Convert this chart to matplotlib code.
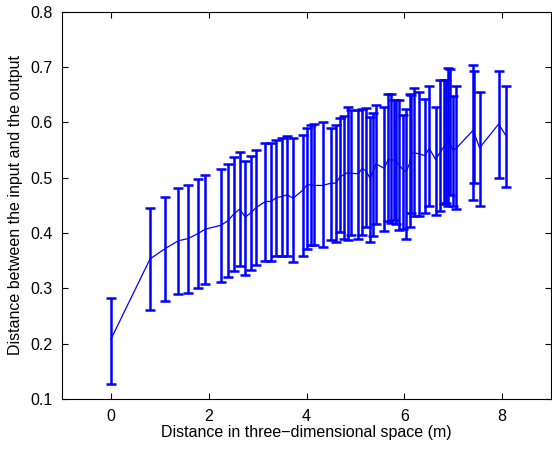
import matplotlib.pyplot as plt
import numpy as np

# distance in 3D space (m)
dist = [0.00, 0.80, 1.11, 1.38, 1.58, 1.78, 1.93, 2.25, 2.39, 2.51,
        2.63, 2.75, 2.87, 2.97, 3.16, 3.28, 3.38, 3.50, 3.60, 3.73,
        3.93, 4.01, 4.09, 4.16, 4.33, 4.50, 4.60, 4.69, 4.76, 4.84,
        4.92, 5.06, 5.14, 5.21, 5.30, 5.35, 5.42, 5.59, 5.67, 5.72,
        5.78, 5.84, 5.89, 5.98, 6.04, 6.11, 6.14, 6.20, 6.30, 6.42,
        6.51, 6.64, 6.74, 6.81, 6.85, 6.89, 6.94, 6.99, 7.06, 7.40,
        7.43, 7.54, 7.93, 8.07]
# mean distance between input and output
mean_val = [0.208, 0.353, 0.372, 0.386, 0.390, 0.399, 0.407, 0.414, 0.422, 0.434,
            0.443, 0.429, 0.437, 0.446, 0.457, 0.457, 0.464, 0.466, 0.469, 0.463,
            0.478, 0.487, 0.487, 0.486, 0.486, 0.490, 0.490, 0.502, 0.505, 0.509,
            0.508, 0.507, 0.517, 0.513, 0.499, 0.508, 0.525, 0.517, 0.533, 0.532,
            0.532, 0.529, 0.523, 0.514, 0.511, 0.526, 0.543, 0.545, 0.543, 0.540,
            0.553, 0.533, 0.547, 0.556, 0.560, 0.580, 0.562, 0.550, 0.553, 0.585,
            0.580, 0.554, 0.597, 0.577]
# lower / upper ends of the error bars
lower = [0.128, 0.261, 0.278, 0.289, 0.292, 0.301, 0.308, 0.311, 0.321, 0.332,
         0.341, 0.325, 0.334, 0.342, 0.350, 0.350, 0.358, 0.358, 0.358, 0.348,
         0.359, 0.372, 0.378, 0.378, 0.374, 0.387, 0.383, 0.402, 0.390, 0.387,
         0.396, 0.389, 0.396, 0.411, 0.384, 0.395, 0.416, 0.404, 0.422, 0.419,
         0.423, 0.417, 0.405, 0.408, 0.389, 0.411, 0.436, 0.430, 0.431, 0.437,
         0.448, 0.433, 0.440, 0.452, 0.454, 0.448, 0.469, 0.448, 0.443, 0.460,
         0.491, 0.448, 0.500, 0.484]
upper = [0.283, 0.446, 0.465, 0.481, 0.487, 0.498, 0.505, 0.516, 0.525, 0.538,
         0.546, 0.530, 0.540, 0.550, 0.563, 0.563, 0.568, 0.572, 0.575, 0.572,
         0.578, 0.589, 0.595, 0.597, 0.600, 0.590, 0.596, 0.608, 0.611, 0.628,
         0.622, 0.622, 0.625, 0.626, 0.609, 0.617, 0.631, 0.627, 0.652, 0.651,
         0.640, 0.641, 0.640, 0.614, 0.625, 0.651, 0.649, 0.663, 0.654, 0.643,
         0.666, 0.628, 0.677, 0.677, 0.677, 0.699, 0.696, 0.648, 0.666, 0.704,
         0.692, 0.655, 0.693, 0.665]

plt.rcParams.update({'font.family': ['Liberation Sans', 'DejaVu Sans'],
                     'font.size': 11.5, 'xtick.direction': 'in', 'ytick.direction': 'in',
                     'xtick.top': True, 'ytick.right': True, 'axes.linewidth': 0.8})

x = np.array(dist)
m = np.array(mean_val)
yerr = [m - np.array(lower), np.array(upper) - m]

fig = plt.figure(figsize=(5.52, 4.49), dpi=100)
ax = fig.add_axes([62 / 552, 1 - 399 / 449, (551 - 62) / 552, (399 - 11.7) / 449])

ax.errorbar(x, m, yerr=yerr, color='#0000ff', ecolor='#0000ff', lw=0.9,
            elinewidth=1.8, capsize=3.3, capthick=1.8)

ax.set_xlim(-1, 9)
ax.set_ylim(0.1, 0.8)
ax.set_xticks([0, 2, 4, 6, 8])
ax.set_yticks(np.arange(0.1, 0.81, 0.1))
ax.set_yticklabels(['0.1', '0.2', '0.3', '0.4', '0.5', '0.6', '0.7', '0.8'])
ax.tick_params(length=4, width=0.8, pad=7)
ax.set_xlabel('Distance in three\u2212dimensional space (m)', labelpad=1)
ax.set_ylabel('Distance between the input and the output', labelpad=5)

fig.savefig('out.png', dpi=100)
